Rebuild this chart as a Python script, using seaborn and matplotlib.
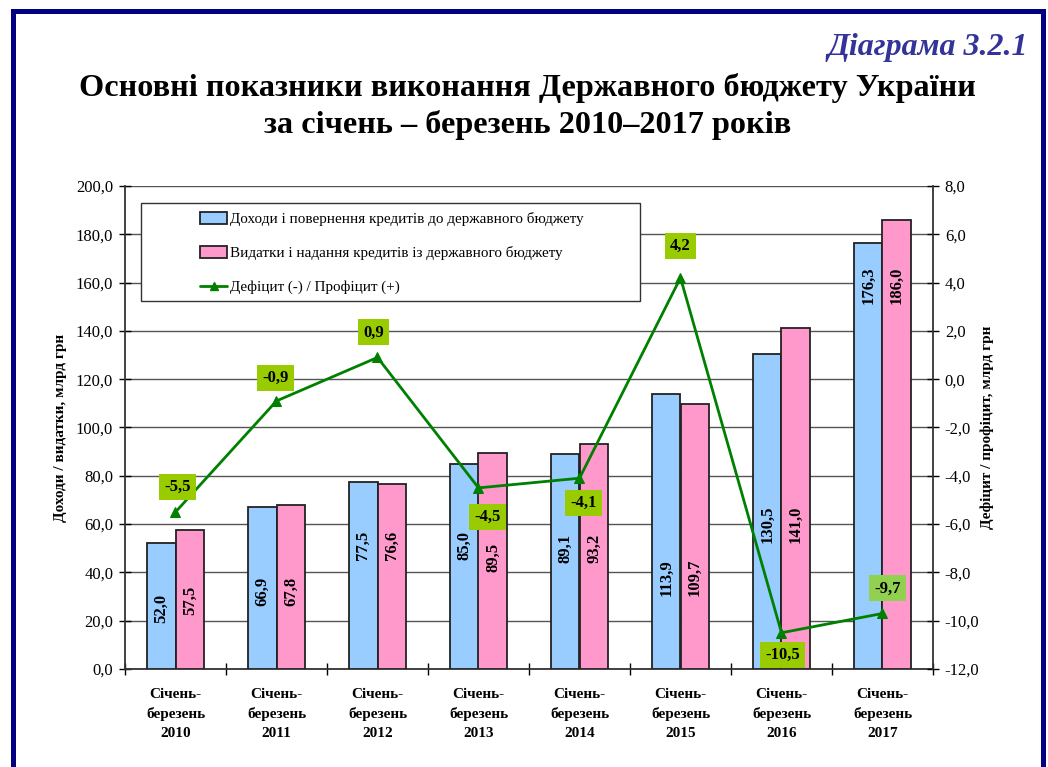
import numpy as np
import pandas as pd
import matplotlib
matplotlib.use("Agg")
import matplotlib.pyplot as plt
import seaborn as sns
from matplotlib.patches import Patch, Rectangle
from matplotlib.lines import Line2D
from matplotlib.ticker import FuncFormatter, MultipleLocator

# data
years = ["2010", "2011", "2012", "2013", "2014", "2015", "2016", "2017"]
revenues = [52.0, 66.9, 77.5, 85.0, 89.1, 113.9, 130.5, 176.3]
expenditures = [57.5, 67.8, 76.6, 89.5, 93.2, 109.7, 141.0, 186.0]
balance = [-5.5, -0.9, 0.9, -4.5, -4.1, 4.2, -10.5, -9.7]

series_names = ["Доходи і повернення кредитів до державного бюджету",
                "Видатки і надання кредитів із державного бюджету",
                "Дефіцит (-) / Профіцит (+)"]

# where the rotated value labels sit inside the bars (left axis units)
rev_label_y = [25, 32, 51, 51, 50, 38, 60, 159]
exp_label_y = [28.5, 32, 51, 46, 50, 38, 60, 159]
# offsets (points) of the balance labels from their markers
bal_offsets = [(1.4, 18), (-0.7, 16.6), (-2.9, 18), (6.5, -21),
               (2.9, -18), (0, 23), (0.7, -15.8), (3.6, 18)]
bal_box_colors = ["#99CC00"] * 7 + ["#92D050"]

blue = "#99CCFF"
pink = "#FF99CC"
green = "#008000"

periods = ["Січень-\nберезень\n" + y for y in years]
df = pd.DataFrame({
    "period": periods * 2,
    "series": [series_names[0]] * len(periods) + [series_names[1]] * len(periods),
    "value": revenues + expenditures,
})

sns.set_theme(style="white")
plt.rcParams["font.family"] = ["Liberation Serif", "DejaVu Serif"]
for k in ["text.color", "axes.labelcolor", "xtick.color", "ytick.color"]:
    plt.rcParams[k] = "black"

fig = plt.figure(figsize=(10.48, 7.67), dpi=100)
ax = fig.add_axes([125 / 1048, 1 - 669 / 767, (933 - 125) / 1048, (669 - 186) / 767])

sns.barplot(data=df, x="period", y="value", hue="series", palette=[blue, pink],
            width=0.57, saturation=1, edgecolor="#222222", linewidth=1.3,
            errorbar=None, legend=False, ax=ax, zorder=3)

for bar, ly, v in zip(ax.containers[0], rev_label_y, revenues):
    ax.text(bar.get_x() + bar.get_width() / 2, ly, f"{v:.1f}".replace(".", ","),
            rotation=90, ha="center", va="center", fontsize=12, fontweight="bold", zorder=5)
for bar, ly, v in zip(ax.containers[1], exp_label_y, expenditures):
    ax.text(bar.get_x() + bar.get_width() / 2, ly, f"{v:.1f}".replace(".", ","),
            rotation=90, ha="center", va="center", fontsize=12, fontweight="bold", zorder=5)

comma = FuncFormatter(lambda v, p: f"{v:.1f}".replace(".", ","))

ax.set_ylim(0, 200)
ax.yaxis.set_major_locator(MultipleLocator(20))
ax.yaxis.set_major_formatter(comma)
ax.grid(axis="y", color="#555555", linewidth=1, zorder=0)
ax.set_axisbelow(True)
ax.set_xlabel("")
ax.set_ylabel("Доходи / видатки, млрд грн", fontsize=11, fontweight="bold", labelpad=6)
ax.tick_params(axis="y", left=True, direction="inout", length=9, width=1, labelsize=12, pad=4)
ax.set_xticks(np.arange(len(periods)))
ax.set_xticklabels(periods, fontsize=11, fontweight="bold", linespacing=1.55)
ax.set_xticks(np.arange(len(periods) + 1) - 0.5, minor=True)
ax.tick_params(axis="x", which="major", bottom=False, pad=8)
ax.tick_params(axis="x", which="minor", bottom=True, direction="inout", length=9, width=1)
for s in ["left", "bottom"]:
    ax.spines[s].set_color("#333333")
    ax.spines[s].set_linewidth(1.3)
ax.spines["top"].set_visible(False)
ax.spines["right"].set_visible(False)

ax2 = ax.twinx()
sns.lineplot(x=np.arange(len(periods)), y=balance, ax=ax2, color=green, linewidth=2,
             marker="^", markersize=7, markeredgecolor=green, zorder=4)
ax2.set_ylim(-12, 8)
ax2.yaxis.set_major_locator(MultipleLocator(2))
ax2.yaxis.set_major_formatter(comma)
ax2.tick_params(axis="y", right=True, direction="inout", length=9, width=1, labelsize=12, pad=4)
ax2.set_ylabel("Дефіцит / профіцит, млрд грн", fontsize=11, fontweight="bold",
               rotation=90, labelpad=1)
ax2.yaxis.set_label_position("right")
for s in ["top", "left", "bottom"]:
    ax2.spines[s].set_visible(False)
ax2.spines["right"].set_color("#333333")
ax2.spines["right"].set_linewidth(1.3)
ax2.grid(False)
ax.set_xlim(-0.5, len(periods) - 0.5)

for i, (v, off, fc) in enumerate(zip(balance, bal_offsets, bal_box_colors)):
    ax2.annotate(f"{v:.1f}".replace(".", ","), (i, v), xytext=off, textcoords="offset points",
                 ha="center", va="center", fontsize=12, fontweight="bold",
                 bbox=dict(boxstyle="square,pad=0.3", facecolor=fc, edgecolor="none"), zorder=6)

# legend box with wide left margin, as in the original
ax.add_patch(Rectangle((16 / 808, (669 - 301) / 483), (640 - 141) / 808, (301 - 203) / 483,
                       transform=ax.transAxes, facecolor="white", edgecolor="#333333",
                       linewidth=1, zorder=8))
handles = [Patch(facecolor=blue, edgecolor="#222222", linewidth=1.3),
           Patch(facecolor=pink, edgecolor="#222222", linewidth=1.3),
           Line2D([], [], color=green, linewidth=2, marker="^", markersize=6)]
leg = ax.legend(handles, series_names, loc="upper left",
                bbox_to_anchor=((200 - 125) / 808, (669 - 212) / 483),
                frameon=False, fontsize=10.9, handlelength=1.8, handleheight=0.8,
                handletextpad=0.2, labelspacing=1.32, borderpad=0, borderaxespad=0)
leg.set_zorder(9)

fig.text(0.503, 1 - 88 / 767, "Основні показники виконання Державного бюджету України",
         ha="center", va="center", fontsize=23.2, fontweight="bold")
fig.text(0.503, 1 - 125 / 767, "за січень – березень 2010–2017 років",
         ha="center", va="center", fontsize=23.2, fontweight="bold")
fig.text(1028 / 1048, 1 - 48 / 767, "Діаграма 3.2.1", ha="right", va="center",
         fontsize=23, fontweight="bold", style="italic", color="#333399")

fig.add_artist(Rectangle((12.5 / 1048, -0.05), (1042.5 - 12.5) / 1048, 0.05 + 1 - 11 / 767,
                         transform=fig.transFigure, fill=False, edgecolor="#000080",
                         linewidth=3.6))

fig.savefig("out.png", dpi=100)
